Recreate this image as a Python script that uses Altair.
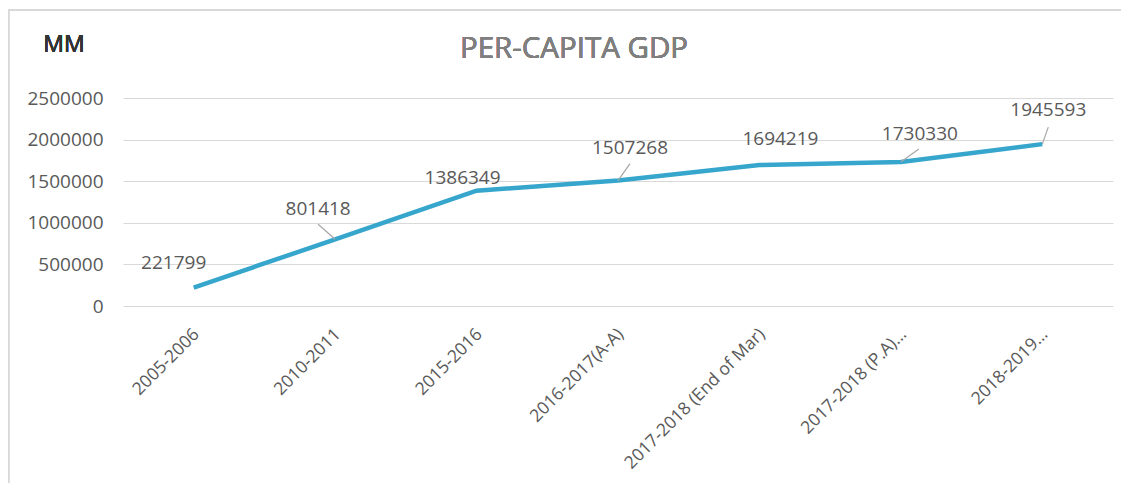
import altair as alt
import pandas as pd

categories = ["2005-2006", "2010-2011", "2015-2016", "2016-2017(A-A)",
              "2017-2018 (End of Mar)", "2017-2018 (P.A)…", "2018-2019…"]
values = [221799, 801418, 1386349, 1507268, 1694219, 1730330, 1945593]
y_ticks = [0, 500000, 1000000, 1500000, 2000000, 2500000]

# label placement (style): offsets in pixels from each point
label_dx = [-20, -17, -14, 12, 21, 19, 6]
label_dy = [-25, -30, -13, -33, -26.5, -28.5, -34]
leaders = {1: (-17, -15), 3: (12, -17), 5: (18, -13), 6: (6, -17)}

df = pd.DataFrame({"cat": categories, "val": values})

FONT = "Open Sans"
GRAY = "#595959"

x_enc = alt.X("cat:N", sort=categories,
              scale=alt.Scale(type="point", padding=0.5),
              axis=alt.Axis(title=None, labelAngle=-45, labelFontSize=17.5,
                            labelColor=GRAY, labelFont=FONT, ticks=False,
                            domain=False, grid=False, labelPadding=19,
                            labelOffset=-4, labelLimit=400))
y_enc = alt.Y("val:Q", scale=alt.Scale(domain=[0, 2500000], nice=False),
              axis=alt.Axis(title=None, values=y_ticks, format="d",
                            labelFontSize=19, labelColor=GRAY, labelFont=FONT,
                            ticks=False, domain=False, gridColor="#d9d9d9",
                            gridWidth=1.2, labelPadding=20))

base = alt.Chart(df)

border = alt.Chart(df).mark_rect(fill=None, stroke="#d9d9d9", strokeWidth=1.5).encode(
    x=alt.value(-114.5), x2=alt.value(1000), y=alt.value(-88), y2=alt.value(500))

line = base.mark_line(color="#36a6cc", strokeWidth=4.5).encode(x=x_enc, y=y_enc)

layers = [border, line]

for i, (c, v) in enumerate(zip(categories, values)):
    sub = alt.Chart(pd.DataFrame({"cat": [c], "val": [v], "lab": [str(v)]}))
    layers.append(sub.mark_text(font=FONT, fontSize=19, color=GRAY,
                                dx=label_dx[i], dy=label_dy[i],
                                baseline="middle", align="center").encode(
        x=alt.X("cat:N", sort=categories), y="val:Q", text="lab:N"))
    if i in leaders:
        ldx, ldy = leaders[i]
        layers.append(sub.mark_rule(color="#a6a6a6", strokeWidth=1.2,
                                    x2Offset=ldx, y2Offset=ldy).encode(
            x=alt.X("cat:N", sort=categories), x2="cat:N",
            y="val:Q", y2="val:Q"))

title = alt.Chart(df).mark_text(text="PER-CAPITA GDP", font=FONT, fontSize=29.5,
                                color="#7f7f7f", align="center",
                                baseline="middle").encode(
    x=alt.value(451), y=alt.value(-49))
mm = alt.Chart(df).mark_text(text="MM", font=FONT, fontSize=23, color="#333333",
                             align="center", baseline="middle").encode(
    x=alt.value(-59), y=alt.value(-53))
layers += [title, mm]

chart = alt.layer(*layers).properties(
    width=990, height=208,
    autosize=alt.AutoSizeParams(type="none"),
    padding={"left": 115, "top": 90, "right": 8, "bottom": 177},
    background="white",
).configure_view(stroke=None)

chart.save("out.html", embed_options={"renderer": "svg", "actions": False})
